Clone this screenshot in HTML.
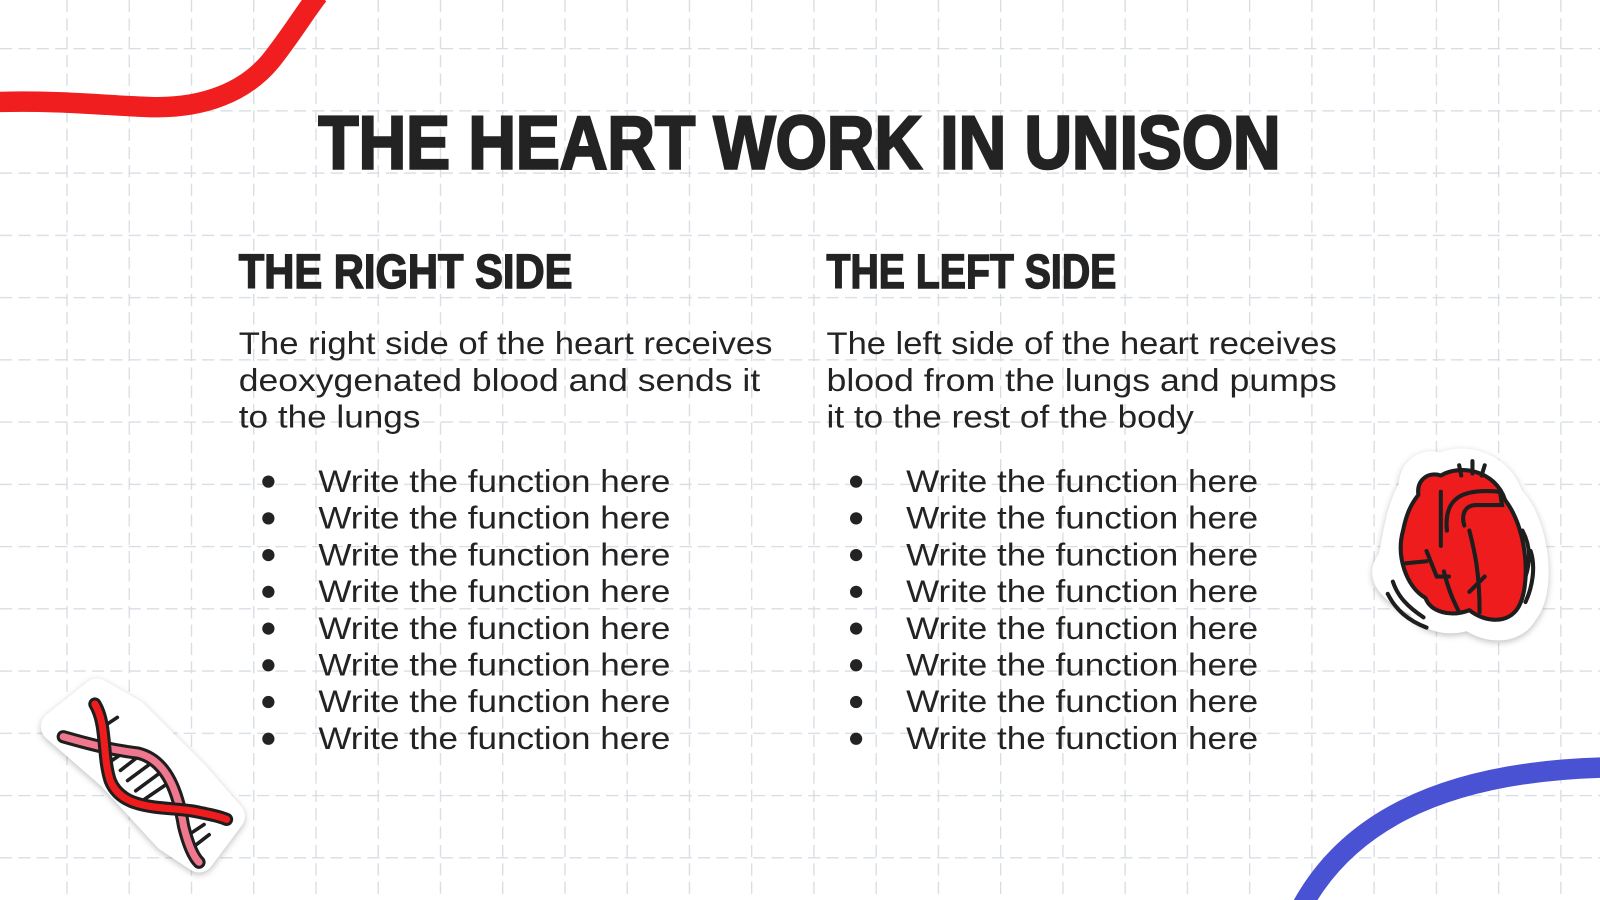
<!DOCTYPE html>
<html><head><meta charset="utf-8"><style>
html,body{margin:0;padding:0;background:#fff;}
svg{display:block;}
</style></head><body>
<svg width="1600" height="900" viewBox="0 0 1568 882" preserveAspectRatio="none" xmlns="http://www.w3.org/2000/svg">
<defs>
<pattern id="gv" x="4" y="0" width="61" height="18" patternUnits="userSpaceOnUse">
<line x1="0.5" y1="0" x2="0.5" y2="12" stroke="#d6dde3" stroke-width="1.6"/>
</pattern>
<pattern id="gh" x="0" y="-14" width="18" height="61" patternUnits="userSpaceOnUse">
<line x1="0" y1="0.5" x2="12" y2="0.5" stroke="#d6dde3" stroke-width="1.6"/>
</pattern>
</defs>
<rect width="1568" height="882" fill="#fff"/>
<rect x="0" y="46" width="1568" height="836" fill="url(#gh)"/>
<rect x="64" y="0" width="1504" height="882" fill="url(#gv)"/>

<path d="M-5,100 C60,98 110,104 150,105 C200,106 240,90 265,60 C285,35 300,10 312,-5" fill="none" stroke="#f01e1e" stroke-width="20"/>
<path d="M1275,890 C1315,815 1400,755 1580,752" fill="none" stroke="#4a52d4" stroke-width="20"/>

<g fill="#232323" font-family="Liberation Sans, sans-serif">
<text x="312" y="165" font-size="74" font-weight="900" textLength="943" lengthAdjust="spacingAndGlyphs" stroke="#232323" stroke-width="2.5">THE HEART WORK IN UNISON</text>
<text x="234" y="282" font-size="47" font-weight="900" textLength="327" lengthAdjust="spacingAndGlyphs" stroke="#232323" stroke-width="1.5">THE RIGHT SIDE</text>
<text x="810" y="282" font-size="47" font-weight="900" textLength="284" lengthAdjust="spacingAndGlyphs" stroke="#232323" stroke-width="1.5">THE LEFT SIDE</text>
<g font-size="31">
<text x="234" y="347" textLength="523" lengthAdjust="spacingAndGlyphs">The right side of the heart receives</text>
<text x="234" y="383" textLength="511" lengthAdjust="spacingAndGlyphs">deoxygenated blood and sends it</text>
<text x="234" y="419" textLength="178" lengthAdjust="spacingAndGlyphs">to the lungs</text>
<text x="810" y="347" textLength="500" lengthAdjust="spacingAndGlyphs">The left side of the heart receives</text>
<text x="810" y="383" textLength="500" lengthAdjust="spacingAndGlyphs">blood from the lungs and pumps</text>
<text x="810" y="419" textLength="360" lengthAdjust="spacingAndGlyphs">it to the rest of the body</text>
</g>
<g font-size="31">
<text x="312" y="482" textLength="345" lengthAdjust="spacingAndGlyphs">Write the function here</text>
<text x="312" y="518" textLength="345" lengthAdjust="spacingAndGlyphs">Write the function here</text>
<text x="312" y="554" textLength="345" lengthAdjust="spacingAndGlyphs">Write the function here</text>
<text x="312" y="590" textLength="345" lengthAdjust="spacingAndGlyphs">Write the function here</text>
<text x="312" y="626" textLength="345" lengthAdjust="spacingAndGlyphs">Write the function here</text>
<text x="312" y="662" textLength="345" lengthAdjust="spacingAndGlyphs">Write the function here</text>
<text x="312" y="698" textLength="345" lengthAdjust="spacingAndGlyphs">Write the function here</text>
<text x="312" y="734" textLength="345" lengthAdjust="spacingAndGlyphs">Write the function here</text>
<text x="888" y="482" textLength="345" lengthAdjust="spacingAndGlyphs">Write the function here</text>
<text x="888" y="518" textLength="345" lengthAdjust="spacingAndGlyphs">Write the function here</text>
<text x="888" y="554" textLength="345" lengthAdjust="spacingAndGlyphs">Write the function here</text>
<text x="888" y="590" textLength="345" lengthAdjust="spacingAndGlyphs">Write the function here</text>
<text x="888" y="626" textLength="345" lengthAdjust="spacingAndGlyphs">Write the function here</text>
<text x="888" y="662" textLength="345" lengthAdjust="spacingAndGlyphs">Write the function here</text>
<text x="888" y="698" textLength="345" lengthAdjust="spacingAndGlyphs">Write the function here</text>
<text x="888" y="734" textLength="345" lengthAdjust="spacingAndGlyphs">Write the function here</text>
</g>
<g>
<circle cx="263" cy="472" r="6"/><circle cx="263" cy="508" r="6"/><circle cx="263" cy="544" r="6"/><circle cx="263" cy="580" r="6"/>
<circle cx="263" cy="616" r="6"/><circle cx="263" cy="652" r="6"/><circle cx="263" cy="688" r="6"/><circle cx="263" cy="724" r="6"/>
<circle cx="839" cy="472" r="6"/><circle cx="839" cy="508" r="6"/><circle cx="839" cy="544" r="6"/><circle cx="839" cy="580" r="6"/>
<circle cx="839" cy="616" r="6"/><circle cx="839" cy="652" r="6"/><circle cx="839" cy="688" r="6"/><circle cx="839" cy="724" r="6"/>
</g>
</g>

<!-- heart sticker -->
<g>
<path d="M1386,478 C1384,462 1400,452 1412,460 C1430,448 1468,455 1478,488 C1505,515 1510,580 1492,600 C1482,618 1455,615 1440,602 C1420,610 1398,604 1392,590 C1370,580 1350,565 1365,550 C1370,530 1372,500 1386,478 Z" fill="#fff" stroke="#fff" stroke-width="30" stroke-linejoin="round" filter="drop-shadow(0 2px 3px rgba(0,0,0,0.25))"/>
<path d="M1390,485 C1388,470 1400,462 1412,466 C1430,455 1465,460 1475,490 C1498,520 1500,575 1488,595 C1478,612 1455,610 1440,598 C1422,605 1402,600 1397,586 C1378,575 1368,545 1375,520 C1378,505 1382,495 1390,485 Z" fill="#ee1c1c" stroke="#1e1e1e" stroke-width="4" stroke-linejoin="round"/>
<path d="M1412,482 L1412,535 M1418,520 C1415,490 1430,478 1470,482 L1472,495 L1445,495 C1435,496 1432,505 1435,515 M1440,520 C1445,540 1450,560 1450,600 M1378,552 L1398,550 M1398,540 L1408,565 L1420,565 M1415,560 C1420,580 1425,590 1430,600 M1440,580 L1455,565 M1432,466 L1430,456 M1443,464 L1443,452 M1452,466 L1455,456 M1492,520 C1500,535 1500,550 1495,565 M1500,540 C1505,555 1502,575 1495,590 M1365,570 C1370,585 1380,595 1395,605 M1360,582 C1368,598 1380,608 1398,615" fill="none" stroke="#1e1e1e" stroke-width="4" stroke-linecap="round"/>
</g>

<!-- DNA sticker -->
<g>
<path d="M55,712 L95,680 L130,700 L190,760 L225,800 L195,840 L165,820 L110,760 Z" fill="#fff" stroke="#fff" stroke-width="30" stroke-linejoin="round" filter="drop-shadow(0 2px 3px rgba(0,0,0,0.25))"/>
<g stroke="#1e1e1e" stroke-width="3.5" stroke-linecap="round">
<line x1="100" y1="713" x2="115" y2="703"/><line x1="110" y1="745" x2="125" y2="735"/><line x1="118" y1="755" x2="140" y2="738"/><line x1="125" y1="765" x2="152" y2="745"/><line x1="133" y1="775" x2="160" y2="755"/><line x1="142" y1="783" x2="167" y2="766"/><line x1="185" y1="818" x2="200" y2="808"/><line x1="192" y1="828" x2="205" y2="818"/>
</g>
<path d="M62,722 C90,730 110,735 135,738 C165,745 175,780 180,810 C185,830 190,840 195,845" fill="none" stroke="#1e1e1e" stroke-width="13" stroke-linecap="round"/>
<path d="M62,722 C90,730 110,735 135,738 C165,745 175,780 180,810 C185,830 190,840 195,845" fill="none" stroke="#f0788e" stroke-width="7" stroke-linecap="round"/>
<path d="M93,690 C105,710 100,740 108,765 C120,795 160,790 190,795 C205,798 215,800 222,803" fill="none" stroke="#1e1e1e" stroke-width="13" stroke-linecap="round"/>
<path d="M93,690 C105,710 100,740 108,765 C120,795 160,790 190,795 C205,798 215,800 222,803" fill="none" stroke="#ee1c1c" stroke-width="7" stroke-linecap="round"/>
</g>
</svg>
</body></html>
